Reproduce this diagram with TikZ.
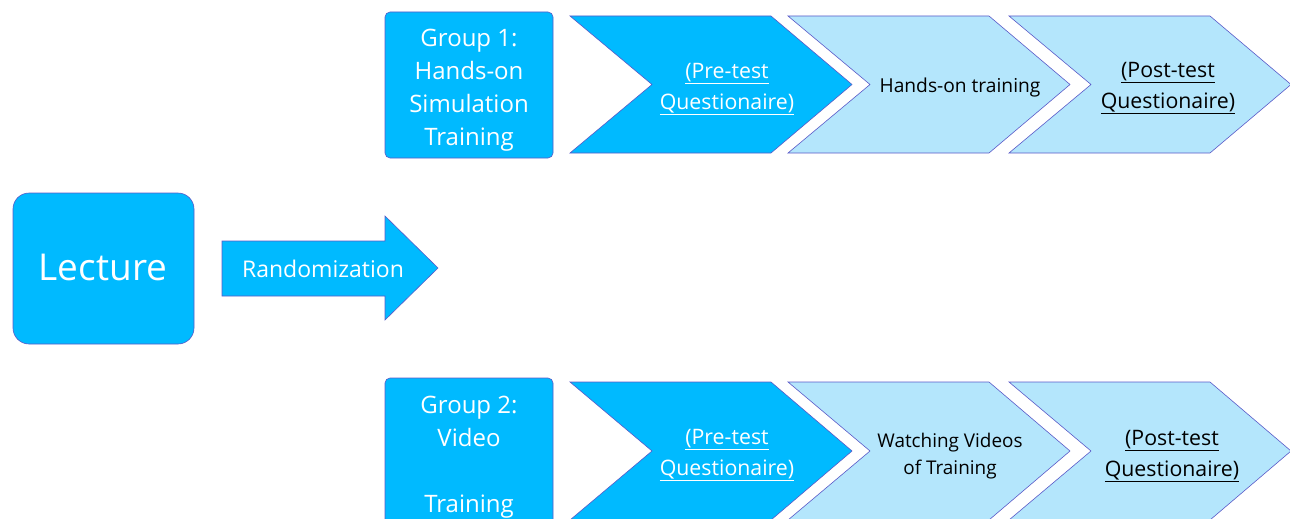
\documentclass[tikz,border=0pt]{standalone}
\usepackage{fontspec}
\setmainfont{Open Sans}
\definecolor{dkblue}{RGB}{0,186,255}
\definecolor{ltblue}{RGB}{180,230,252}
\definecolor{edge}{RGB}{90,90,200}
\begin{document}
\begin{tikzpicture}[x=1pt,y=-1pt,
  darkfill/.style={fill=dkblue,draw=edge,line width=0.6pt},
  lightfill/.style={fill=ltblue,draw=edge,line width=0.6pt},
  wtxt/.style={text=white,align=center,inner sep=0pt},
  btxt/.style={text=black,align=center,inner sep=0pt}]
\useasboundingbox (0,0) rectangle (1290,519);
% Lecture
\draw[darkfill,rounded corners=16pt] (13,193) rectangle (194,344);
\node[wtxt,font=\fontsize{37}{44}\selectfont] (lecture) at (103,267) {Lecture};
% Randomization arrow
\draw[darkfill] (222,241) -- (385,241) -- (385,216) -- (438,268) -- (385,320) -- (385,296) -- (222,296) -- cycle;
\node[wtxt,font=\fontsize{23}{27}\selectfont] (rand) at (323,269) {Randomization};
% Group boxes
\draw[darkfill,rounded corners=5pt] (385,12) rectangle (553,158);
\node[wtxt,font=\fontsize{24}{33}\selectfont] (g1) at (469,90) {Group 1:\\Hands-on\\Simulation\\Training};
\draw[darkfill,rounded corners=5pt] (385,378) rectangle (553,530);
\node[wtxt,font=\fontsize{24}{33}\selectfont] (g2) at (469,457) {Group 2:\\Video\\\strut\\Training};
% chevrons
\newcommand{\chev}[4]{% style, left x, top y, bottom y
  \draw[#1] (#2,#3) -- ({#2+201},#3) -- ({#2+282},{(#3+#4)/2}) -- ({#2+201},#4) -- (#2,#4) -- ({#2+82},{(#3+#4)/2}) -- cycle;}
\chev{darkfill}{570}{16}{153}
\chev{lightfill}{788}{16}{153}
\chev{lightfill}{1009}{16}{153}
\chev{darkfill}{570}{382}{520}
\chev{lightfill}{788}{382}{520}
\chev{lightfill}{1009}{382}{520}
\node[wtxt,font=\fontsize{21.3}{31}\selectfont] (pre1) at (727,89) {\underline{(Pre-test}\\\underline{Questionaire)}};
\node[btxt,font=\fontsize{19.2}{28}\selectfont] (train1) at (960,88) {Hands-on training};
\node[btxt,font=\fontsize{21.3}{31}\selectfont] (post1) at (1168,88) {\underline{(Post-test}\\\underline{Questionaire)}};
\node[wtxt,font=\fontsize{21.3}{31}\selectfont] (pre2) at (727,455) {\underline{(Pre-test}\\\underline{Questionaire)}};
\node[btxt,font=\fontsize{18.9}{27}\selectfont] (train2) at (950,456) {Watching Videos\\of Training};
\node[btxt,font=\fontsize{21.3}{31}\selectfont] (post2) at (1172,456) {\underline{(Post-test}\\\underline{Questionaire)}};
\end{tikzpicture}
\end{document}
